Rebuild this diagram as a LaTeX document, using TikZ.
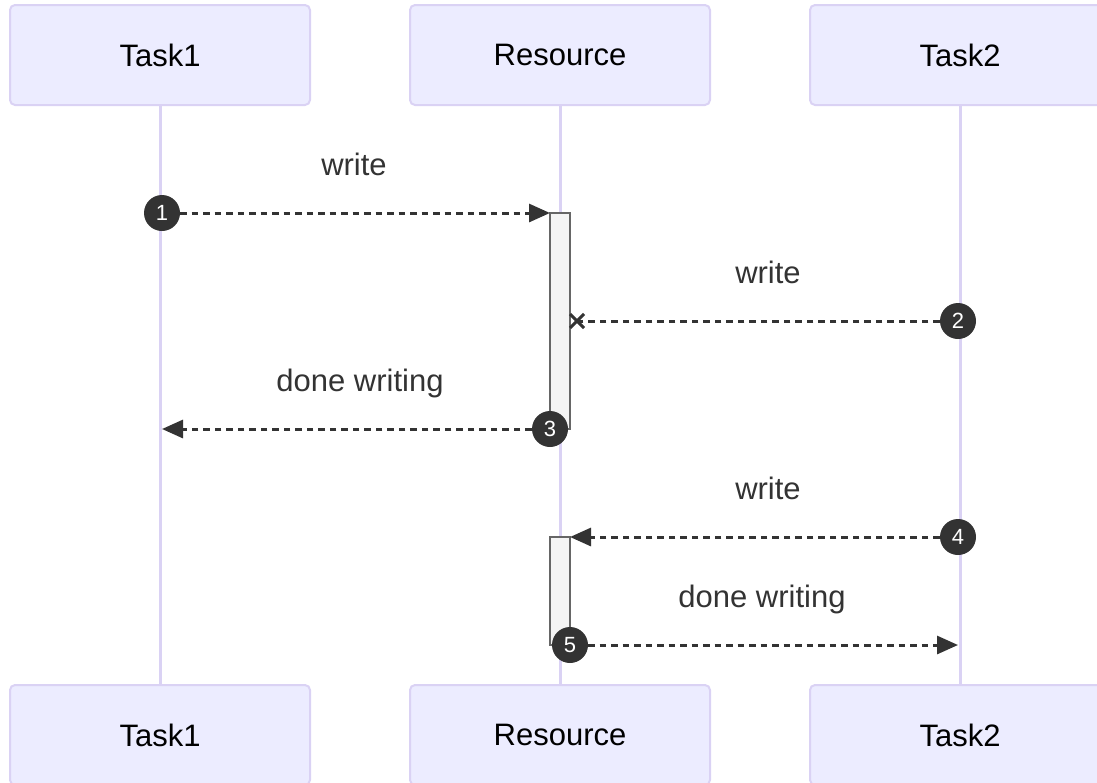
\documentclass[tikz,border=0pt]{standalone}
\usepackage{fontspec}
\setmainfont{Liberation Sans}
\usepackage{tikz}
\usetikzlibrary{arrows.meta, positioning}
\definecolor{actfill}{HTML}{ECECFF}
\definecolor{actline}{HTML}{DAD2F4}
\definecolor{msgcol}{HTML}{333333}
\definecolor{barfill}{HTML}{F4F4F4}
\definecolor{barline}{HTML}{666666}
\tikzset{>={Triangle[length=21pt,width=18pt]}}

\begin{document}
\begin{tikzpicture}[x=1pt, y=-1pt,
  actor/.style={draw=actline, line width=2pt, fill=actfill, rounded corners=5pt,
    minimum width=300pt, minimum height=100pt, text=black, font=\fontsize{31}{36}\selectfont},
  lifeline/.style={draw=actline, line width=3pt},
  msg/.style={draw=msgcol, line width=3pt, dash pattern=on 6.5pt off 5pt},
  lbl/.style={text=msgcol, anchor=base, font=\fontsize{31}{36}\selectfont},
  num/.style={circle, fill=msgcol, text=white, minimum size=36pt, inner sep=0pt,
    font=\fontsize{22}{24}\selectfont},
  bar/.style={draw=barline, fill=barfill, line width=2pt, minimum width=20pt,
    inner sep=0pt, outer sep=0pt}]
		\useasboundingbox (0,0) rectangle (1097,782);
		\node[actor] (T1) at (160,55) {Task1};
		\node[actor] (R) at (560,55) {Resource};
		\node[actor] (T2) at (960,55) {Task2};
		\node[actor] (T1b) at (160,735) {Task1};
		\node[actor] (Rb) at (560,735) {Resource};
		\node[actor] (T2b) at (960,735) {Task2};
		\draw[lifeline] (T1) -- (T1b); \draw[lifeline] (R) -- (Rb); \draw[lifeline] (T2) -- (T2b);
		
		\node[bar, minimum height=216pt] (act1) at (560,321) {};
		\node[bar, minimum height=108pt] (act2) at (560,591) {};
		
		\node[num] (n1) at (162,213) {1};
		\node[num] (n2) at (958,321) {2};
		\node[num] (n3) at (act1.south west) {3};
		\node[num] (n4) at (958,537) {4};
		\node[num] (n5) at (act2.south east) {5};
		\coordinate (x2) at (577,321);
		\coordinate (e3) at (162,429);
		\coordinate (e5) at (958,645);
		
		\draw[msg,->] (n1) -- (act1.north west);
		\draw[msg] (n2) -- (x2);
		\draw[msgcol, line width=3pt] (x2) ++(-7,-7) -- ++(14,14) (x2) ++(-7,7) -- ++(14,-14);
		\draw[msg,->] (n3) -- (e3);
		\draw[msg,->] (n4) -- (act2.north east);
		\draw[msg,->] (n5) -- (e5);
		
		\node[lbl] at (354,175) {write};
		\node[lbl] at (768,283) {write};
		\node[lbl] at (360,391) {done writing};
		\node[lbl] at (768,499) {write};
		\node[lbl] at (762,607) {done writing};
\end{tikzpicture}
\end{document}
